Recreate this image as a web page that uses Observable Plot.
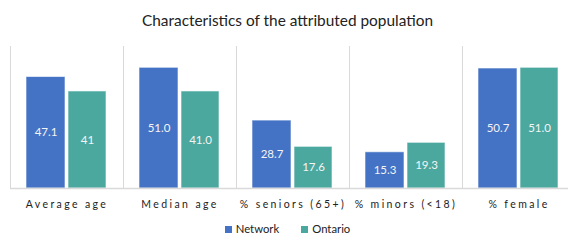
<!DOCTYPE html>
<html><head><meta charset="utf-8">
<script src="https://cdn.jsdelivr.net/npm/d3@7"></script>
<script src="https://cdn.jsdelivr.net/npm/@observablehq/plot@0.6"></script>
<style>
html,body{margin:0;padding:0;background:#fff;overflow:hidden;width:568px;height:249px}
#wrap{width:575px;font-family:Lato,"Open Sans",sans-serif;color:#222}
#title{height:36px;line-height:40px;text-align:center;font-size:15.4px;white-space:nowrap}
#legend{height:34px;line-height:28px;text-align:center;font-size:11.3px;color:#222}
#legend span.item{display:inline-block;margin:0 11px}
#legend span.sw{display:inline-block;width:7px;height:7px;margin-right:4px;vertical-align:0px}
svg [aria-label^="x-axis"] text{letter-spacing:2.4px}
</style></head>
<body><div id="wrap">
<div id="title">Characteristics of the attributed population</div>
<div id="chart"></div>
<div id="legend"></div>
</div>
<script>
const categories = ["Average age", "Median age", "% seniors (65+)", "% minors (<18)", "% female"];
const series = ["Network", "Ontario"];
const networkValues = [47.1, 51.0, 28.7, 15.3, 50.7];
const ontarioValues = [41, 41.0, 17.6, 19.3, 51.0];
const networkLabels = ["47.1", "51.0", "28.7", "15.3", "50.7"];
const ontarioLabels = ["41", "41.0", "17.6", "19.3", "51.0"];
const colors = ["#4472C4", "#4BA89F"];

const net = categories.map((c, i) => ({category: c, value: networkValues[i], label: networkLabels[i]}));
const ont = categories.map((c, i) => ({category: c, value: ontarioValues[i], label: ontarioLabels[i]}));

const chart = Plot.plot({
  width: 575,
  height: 179,
  marginTop: 10,
  marginBottom: 27,
  marginLeft: 10,
  marginRight: 0,
  style: {fontFamily: "Lato, 'Open Sans', sans-serif", fontSize: "10.5px", color: "#222", background: "white"},
  x: {domain: categories, padding: 0, tickSize: 0, tickPadding: 12, label: null},
  y: {domain: [0, 60], axis: null},
  marks: [
    Plot.barY(net, {x: "category", y: "value", fill: colors[0], insetLeft: 16, insetRight: 58, stroke: "white", strokeOpacity: 0.6, strokeWidth: 1}),
    Plot.barY(ont, {x: "category", y: "value", fill: colors[1], insetLeft: 58, insetRight: 17, stroke: "white", strokeOpacity: 0.6, strokeWidth: 1}),
    Plot.ruleX(categories, {x: d => d, y1: 0, y2: 60, dx: -56.5, stroke: "#d9d9d9", strokeWidth: 1}),
    Plot.ruleY([0], {stroke: "#d9d9d9", strokeWidth: 1.5}),
    Plot.text(net, {x: "category", y: d => d.value / 2, text: "label", dx: -21, fill: "#f4f4f4", fontSize: 11.5}),
    Plot.text(ont, {x: "category", y: d => d.value / 2, text: "label", dx: 20.5, fill: "#f4f4f4", fontSize: 11.5})
  ]
});
document.getElementById("chart").appendChild(chart);

const legend = document.getElementById("legend");
series.forEach((s, i) => {
  const item = document.createElement("span");
  item.className = "item";
  const sw = document.createElement("span");
  sw.className = "sw";
  sw.style.background = colors[i];
  item.appendChild(sw);
  item.appendChild(document.createTextNode(s));
  legend.appendChild(item);
});
</script>
</body></html>
